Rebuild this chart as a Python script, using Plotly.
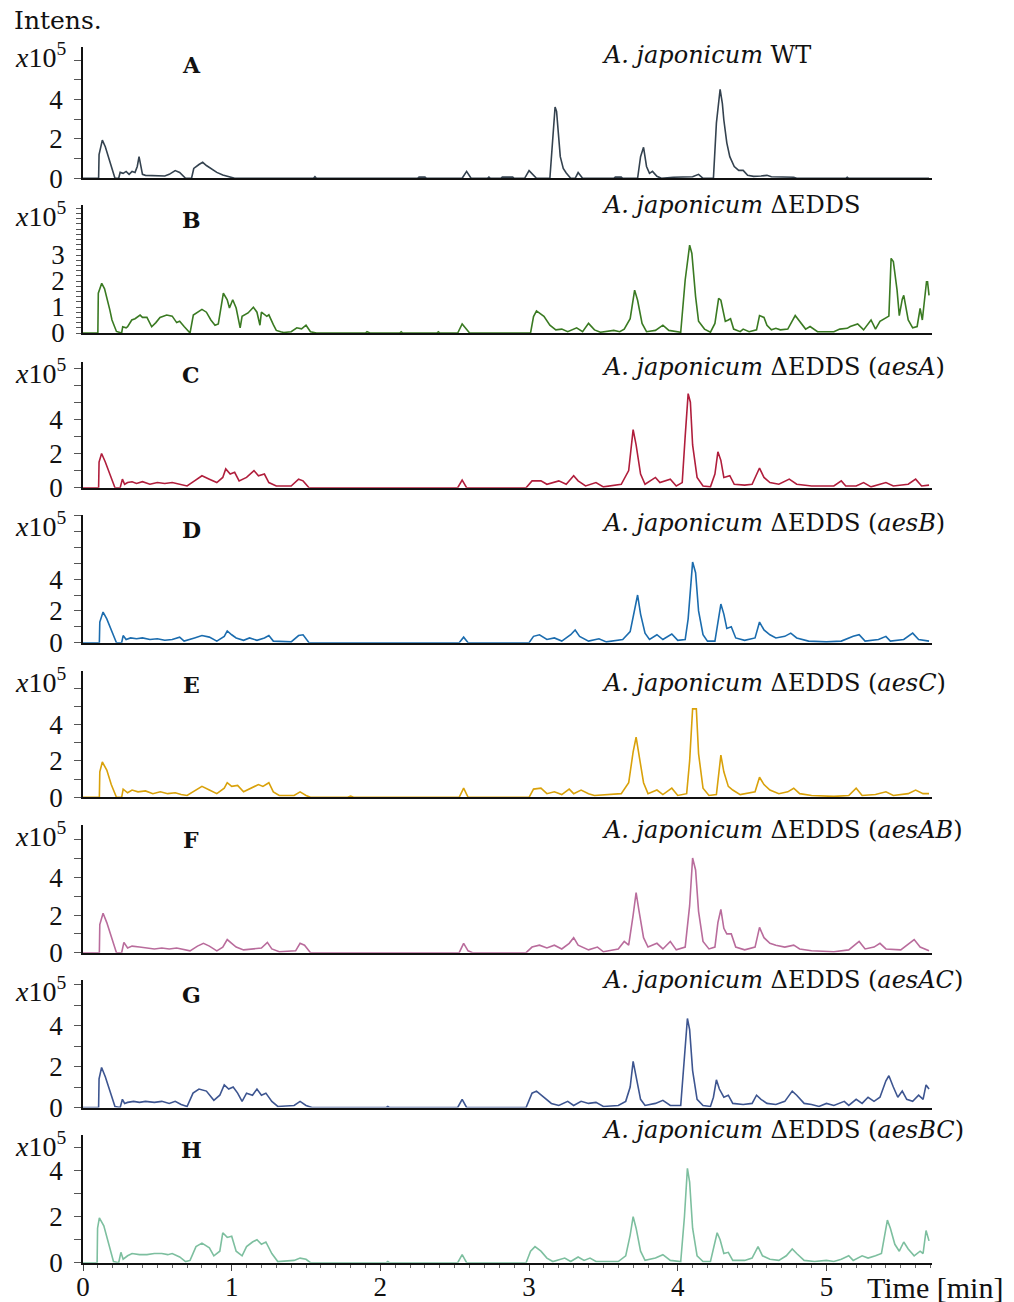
import plotly.graph_objects as go

# ---------------- data (time in min, intensity in x10^5) ----------------
trace_A = [(0.00,0),(0.105,0),(0.108,1.2),(0.13,1.94),(0.15,1.6),(0.17,1.1),(0.19,0.6),(0.215,0),(0.24,0),
 (0.25,0.3),(0.27,0.25),(0.29,0.35),(0.31,0.2),(0.33,0.35),(0.35,0.3),(0.365,0.6),(0.377,1.1),(0.39,0.6),
 (0.40,0.2),(0.42,0.15),(0.50,0.12),(0.55,0.12),(0.58,0.2),(0.62,0.39),(0.65,0.3),(0.69,0),(0.73,0),
 (0.745,0.5),(0.78,0.7),(0.805,0.81),(0.83,0.65),(0.87,0.45),(0.90,0.3),(0.94,0.17),(0.97,0.1),(1.00,0.05),
 (1.02,0),(1.55,0),(1.56,0.08),(1.57,0),(2.25,0),(2.26,0.06),(2.30,0.06),(2.31,0),(2.55,0),(2.58,0.35),
 (2.61,0),(2.72,0),(2.73,0.06),(2.74,0),(2.81,0),(2.82,0.06),(2.89,0.06),(2.90,0),(2.97,0),(3.00,0.39),
 (3.03,0.15),(3.05,0),(3.14,0),(3.16,2.2),(3.175,3.62),(3.185,3.4),(3.195,2.4),(3.21,1.1),(3.23,0.5),
 (3.25,0.27),(3.28,0),(3.31,0),(3.33,0.29),(3.36,0),(3.57,0),(3.58,0.06),(3.62,0.06),(3.63,0),(3.73,0),
 (3.75,1.1),(3.77,1.57),(3.79,0.6),(3.81,0.25),(3.83,0.35),(3.86,0.1),(3.89,0),(3.97,0.05),(4.06,0.05),
 (4.10,0.08),(4.14,0.2),(4.17,0),(4.24,0),(4.26,2.8),(4.285,4.52),(4.30,3.8),(4.31,2.96),(4.33,1.8),
 (4.35,1.1),(4.38,0.6),(4.41,0.4),(4.44,0.4),(4.47,0.15),(4.51,0.1),(4.56,0.12),(4.60,0.15),(4.63,0.08),
 (4.70,0.07),(4.78,0.05),(4.80,0),(5.13,0),(5.14,0.05),(5.15,0),(5.69,0)]

trace_B = [(0,0),(0.10,0),(0.103,1.53),(0.126,1.91),(0.145,1.7),(0.16,1.40),(0.18,0.9),(0.195,0.5),(0.225,0.06),
 (0.26,0),(0.267,0.24),(0.29,0.2),(0.30,0.24),(0.328,0.5),(0.35,0.55),(0.384,0.69),(0.40,0.6),(0.43,0.6),
 (0.462,0.24),(0.49,0.4),(0.518,0.6),(0.563,0.69),(0.60,0.65),(0.63,0.4),(0.65,0.45),(0.68,0.25),(0.709,0.06),
 (0.72,0),(0.742,0.69),(0.77,0.8),(0.80,0.91),(0.83,0.8),(0.86,0.5),(0.888,0.3),(0.91,0.35),(0.944,1.53),
 (0.97,1.28),(0.985,0.96),(1.007,1.28),(1.03,0.96),(1.057,0.2),(1.07,0.64),(1.11,0.77),(1.146,0.99),
 (1.17,0.8),(1.19,0.3),(1.20,0.8),(1.236,0.64),(1.25,0.7),(1.28,0.32),(1.30,0.1),(1.33,0.05),(1.35,0.02),
 (1.40,0.05),(1.438,0.2),(1.47,0.16),(1.50,0.3),(1.53,0.05),(1.57,0),(1.90,0),(1.91,0.05),(1.93,0),
 (2.13,0),(2.14,0.05),(2.15,0),(2.38,0),(2.39,0.05),(2.40,0),(2.52,0),(2.55,0.35),(2.60,0),(3.01,0),
 (3.03,0.63),(3.05,0.85),(3.10,0.64),(3.14,0.3),(3.18,0.12),(3.22,0.15),(3.26,0.05),(3.32,0.2),(3.36,0.05),
 (3.40,0.37),(3.44,0.12),(3.48,0.03),(3.57,0.1),(3.61,0.05),(3.64,0.15),(3.68,0.55),(3.71,1.65),(3.73,1.26),
 (3.76,0.37),(3.79,0.05),(3.85,0.1),(3.90,0.3),(3.94,0.1),(4.02,0.03),(4.05,2.04),(4.08,3.38),(4.095,3.06),
 (4.12,1.4),(4.14,0.45),(4.18,0.15),(4.22,0.03),(4.25,0.37),(4.275,1.33),(4.29,1.26),(4.32,0.45),(4.34,0.5),
 (4.355,0.55),(4.376,0.15),(4.42,0.05),(4.44,0.15),(4.48,0.05),(4.53,0.12),(4.55,0.67),(4.58,0.6),(4.60,0.3),
 (4.63,0.12),(4.66,0.18),(4.69,0.12),(4.74,0.15),(4.79,0.67),(4.82,0.45),(4.86,0.15),(4.89,0.25),(4.94,0.05),
 (5.05,0.05),(5.09,0.15),(5.14,0.18),(5.16,0.25),(5.21,0.35),(5.25,0.12),(5.30,0.5),(5.33,0.15),(5.36,0.45),
 (5.40,0.6),(5.42,0.65),(5.435,2.87),(5.45,2.75),(5.475,1.65),(5.49,0.67),(5.51,1.3),(5.52,1.45),(5.55,0.5),
 (5.58,0.2),(5.61,0.25),(5.63,0.95),(5.645,0.5),(5.673,1.97),(5.68,1.97),(5.69,1.45)]

trace_C = [(0,0),(0.105,0),(0.108,1.5),(0.125,2.0),(0.15,1.5),(0.18,0.8),(0.215,0),(0.25,0),(0.265,0.5),
 (0.28,0.2),(0.30,0.3),(0.33,0.35),(0.36,0.25),(0.40,0.35),(0.45,0.2),(0.50,0.3),(0.55,0.25),(0.60,0.3),
 (0.65,0.2),(0.70,0.1),(0.75,0.4),(0.80,0.7),(0.85,0.5),(0.90,0.3),(0.94,0.6),(0.96,1.1),(0.99,0.8),
 (1.02,0.9),(1.05,0.4),(1.10,0.6),(1.15,1.0),(1.18,0.7),(1.22,0.8),(1.25,0.3),(1.30,0.1),(1.40,0.1),
 (1.45,0.5),(1.48,0.4),(1.52,0),(2.52,0),(2.55,0.45),(2.58,0),(2.98,0),(3.02,0.4),(3.08,0.4),(3.12,0.2),
 (3.20,0.4),(3.25,0.2),(3.30,0.7),(3.33,0.4),(3.38,0.1),(3.45,0.3),(3.50,0.05),(3.62,0.2),(3.67,1.0),
 (3.70,3.4),(3.72,2.5),(3.75,0.8),(3.78,0.2),(3.85,0.6),(3.88,0.3),(3.95,0.5),(3.99,0.1),(4.03,0.3),
 (4.05,3.0),(4.07,5.5),(4.085,5.0),(4.10,2.5),(4.13,0.6),(4.17,0.1),(4.22,0.05),(4.25,0.8),(4.27,2.1),
 (4.29,1.6),(4.31,0.6),(4.35,0.7),(4.38,0.2),(4.45,0.15),(4.50,0.2),(4.55,1.15),(4.58,0.6),(4.62,0.3),
 (4.68,0.2),(4.75,0.5),(4.80,0.2),(4.90,0.1),(5.05,0.1),(5.10,0.4),(5.13,0.1),(5.20,0.1),(5.25,0.3),
 (5.30,0.05),(5.40,0.3),(5.45,0.1),(5.55,0.2),(5.60,0.5),(5.64,0.1),(5.69,0.15)]

trace_D = [(0,0),(0.11,0),(0.113,1.3),(0.135,1.93),(0.16,1.5),(0.19,0.8),(0.225,0),(0.26,0),(0.27,0.45),
 (0.29,0.2),(0.32,0.3),(0.36,0.25),(0.40,0.3),(0.45,0.2),(0.50,0.25),(0.55,0.15),(0.60,0.2),(0.65,0.35),
 (0.68,0.1),(0.75,0.3),(0.80,0.45),(0.85,0.35),(0.90,0.1),(0.95,0.4),(0.97,0.74),(1.00,0.5),(1.03,0.3),
 (1.08,0.15),(1.12,0.3),(1.17,0.15),(1.22,0.3),(1.25,0.45),(1.28,0.1),(1.40,0.05),(1.45,0.45),(1.48,0.5),
 (1.52,0),(2.53,0),(2.56,0.35),(2.59,0),(3.00,0),(3.03,0.4),(3.07,0.5),(3.12,0.2),(3.17,0.3),(3.22,0.1),
 (3.28,0.5),(3.31,0.8),(3.34,0.4),(3.40,0.1),(3.47,0.25),(3.52,0.05),(3.63,0.2),(3.68,0.7),(3.71,2.0),
 (3.73,3.0),(3.75,1.8),(3.78,0.6),(3.81,0.2),(3.86,0.5),(3.90,0.2),(3.96,0.55),(4.00,0.15),(4.05,0.2),
 (4.07,1.5),(4.10,5.07),(4.12,4.4),(4.14,2.0),(4.17,0.5),(4.20,0.1),(4.25,0.1),(4.27,1.2),(4.29,2.43),
 (4.31,1.8),(4.33,0.9),(4.36,1.0),(4.39,0.3),(4.45,0.15),(4.52,0.3),(4.55,1.3),(4.58,0.8),(4.62,0.5),
 (4.66,0.3),(4.72,0.4),(4.76,0.6),(4.80,0.3),(4.88,0.1),(5.00,0.05),(5.10,0.1),(5.18,0.4),(5.22,0.5),
 (5.26,0.1),(5.35,0.2),(5.40,0.4),(5.43,0.1),(5.52,0.2),(5.58,0.6),(5.62,0.2),(5.69,0.1)]

trace_E = [(0,0),(0.11,0),(0.113,1.4),(0.13,1.94),(0.16,1.5),(0.19,0.7),(0.225,0),(0.26,0),(0.27,0.45),
 (0.30,0.25),(0.33,0.4),(0.37,0.3),(0.42,0.35),(0.47,0.2),(0.52,0.3),(0.57,0.2),(0.62,0.25),(0.66,0.15),
 (0.70,0.1),(0.76,0.4),(0.80,0.6),(0.85,0.4),(0.90,0.2),(0.95,0.5),(0.97,0.8),(1.00,0.6),(1.04,0.65),
 (1.08,0.3),(1.13,0.5),(1.18,0.7),(1.21,0.6),(1.25,0.8),(1.28,0.3),(1.32,0.1),(1.42,0.1),(1.46,0.3),
 (1.50,0.1),(1.53,0),(1.78,0),(1.80,0.06),(1.82,0),(2.53,0),(2.56,0.5),(2.59,0),(3.00,0),(3.03,0.45),
 (3.08,0.5),(3.12,0.2),(3.17,0.3),(3.22,0.15),(3.27,0.45),(3.30,0.2),(3.35,0.4),(3.40,0.2),(3.44,0.1),
 (3.62,0.2),(3.67,0.8),(3.70,2.5),(3.72,3.3),(3.74,2.2),(3.77,0.8),(3.80,0.2),(3.86,0.4),(3.90,0.15),
 (3.96,0.5),(4.00,0.1),(4.06,0.2),(4.08,2.0),(4.10,4.86),(4.125,4.86),(4.14,2.4),(4.17,0.5),(4.21,0.1),
 (4.26,0.15),(4.28,1.5),(4.29,2.32),(4.31,1.4),(4.34,0.6),(4.37,0.4),(4.42,0.15),(4.52,0.3),(4.55,1.1),
 (4.58,0.7),(4.62,0.4),(4.68,0.2),(4.74,0.3),(4.78,0.5),(4.82,0.2),(4.90,0.1),(5.05,0.05),(5.15,0.1),
 (5.20,0.5),(5.24,0.1),(5.33,0.15),(5.40,0.3),(5.45,0.1),(5.55,0.2),(5.60,0.4),(5.65,0.2),(5.69,0.2)]

trace_F = [(0,0),(0.11,0),(0.113,1.5),(0.135,2.1),(0.16,1.6),(0.19,0.8),(0.225,0),(0.26,0),(0.275,0.55),
 (0.30,0.25),(0.33,0.35),(0.38,0.3),(0.43,0.25),(0.48,0.2),(0.53,0.25),(0.58,0.2),(0.63,0.25),(0.68,0.15),
 (0.72,0.1),(0.77,0.35),(0.81,0.5),(0.85,0.35),(0.90,0.1),(0.94,0.3),(0.97,0.7),(1.00,0.5),(1.03,0.3),
 (1.08,0.15),(1.15,0.2),(1.20,0.25),(1.24,0.55),(1.27,0.2),(1.32,0.05),(1.43,0.1),(1.46,0.5),(1.49,0.4),
 (1.53,0),(2.53,0),(2.56,0.5),(2.59,0.1),(2.62,0),(2.98,0),(3.02,0.3),(3.07,0.4),(3.12,0.25),(3.17,0.4),
 (3.22,0.2),(3.27,0.5),(3.30,0.8),(3.33,0.4),(3.40,0.15),(3.46,0.3),(3.50,0.05),(3.60,0.2),(3.64,0.6),
 (3.67,0.4),(3.70,2.0),(3.72,3.2),(3.74,2.2),(3.77,0.8),(3.80,0.3),(3.86,0.5),(3.90,0.2),(3.95,0.6),
 (3.99,0.15),(4.05,0.3),(4.08,2.5),(4.10,5.04),(4.12,4.4),(4.14,2.2),(4.17,0.6),(4.21,0.2),(4.25,0.3),
 (4.27,1.6),(4.29,2.3),(4.31,1.3),(4.33,1.0),(4.36,1.0),(4.39,0.3),(4.45,0.15),(4.52,0.3),(4.55,1.35),
 (4.58,0.8),(4.62,0.5),(4.66,0.4),(4.72,0.3),(4.78,0.4),(4.82,0.2),(4.90,0.1),(5.05,0.05),(5.15,0.15),
 (5.22,0.6),(5.26,0.2),(5.32,0.3),(5.36,0.5),(5.40,0.2),(5.50,0.15),(5.56,0.5),(5.59,0.7),(5.63,0.3),(5.69,0.1)]

trace_G = [(0,0),(0.105,0),(0.108,1.4),(0.125,1.95),(0.15,1.5),(0.18,0.8),(0.215,0.05),(0.25,0),(0.265,0.4),
 (0.28,0.2),(0.30,0.25),(0.34,0.3),(0.38,0.25),(0.42,0.3),(0.48,0.25),(0.53,0.3),(0.58,0.2),(0.62,0.3),
 (0.66,0.15),(0.70,0.05),(0.74,0.7),(0.78,0.9),(0.83,0.8),(0.88,0.35),(0.92,0.6),(0.95,1.1),(0.98,0.9),
 (1.01,1.0),(1.04,0.7),(1.07,0.3),(1.10,0.7),(1.14,0.6),(1.17,0.9),(1.20,0.6),(1.23,0.7),(1.27,0.3),
 (1.31,0.05),(1.42,0.1),(1.46,0.3),(1.50,0.1),(1.54,0),(2.04,0),(2.05,0.05),(2.06,0),(2.52,0),(2.55,0.4),
 (2.58,0),(2.98,0),(3.02,0.7),(3.05,0.8),(3.10,0.5),(3.15,0.2),(3.20,0.1),(3.26,0.3),(3.30,0.1),(3.35,0.3),
 (3.40,0.2),(3.45,0.25),(3.50,0.05),(3.60,0.1),(3.65,0.3),(3.68,1.0),(3.70,2.25),(3.72,1.5),(3.75,0.4),
 (3.78,0.1),(3.85,0.2),(3.90,0.35),(3.95,0.1),(4.02,0.1),(4.04,2.0),(4.065,4.34),(4.08,3.8),(4.10,1.8),
 (4.13,0.4),(4.17,0.1),(4.22,0.05),(4.24,0.5),(4.26,1.35),(4.28,0.9),(4.31,0.5),(4.34,0.6),(4.37,0.2),
 (4.44,0.15),(4.50,0.2),(4.53,0.6),(4.56,0.4),(4.60,0.2),(4.66,0.15),(4.72,0.3),(4.77,0.8),(4.80,0.6),
 (4.85,0.2),(4.90,0.15),(4.95,0.05),(5.00,0.2),(5.05,0.1),(5.12,0.3),(5.15,0.1),(5.20,0.4),(5.24,0.2),
 (5.28,0.5),(5.32,0.3),(5.36,0.5),(5.40,1.3),(5.42,1.55),(5.45,1.0),(5.48,0.5),(5.51,0.8),(5.54,0.4),
 (5.58,0.3),(5.62,0.6),(5.65,0.4),(5.67,1.1),(5.69,0.9)]

trace_H = [(0,0),(0.095,0),(0.098,1.5),(0.11,1.95),(0.14,1.6),(0.17,0.9),(0.205,0.05),(0.24,0),(0.255,0.45),
 (0.27,0.15),(0.30,0.3),(0.33,0.4),(0.38,0.35),(0.43,0.35),(0.48,0.4),(0.53,0.4),(0.57,0.35),(0.60,0.4),
 (0.65,0.25),(0.69,0.05),(0.72,0.1),(0.76,0.7),(0.80,0.85),(0.85,0.65),(0.88,0.3),(0.92,0.5),(0.94,1.3),
 (0.97,1.1),(1.00,1.15),(1.03,0.5),(1.07,0.3),(1.10,0.7),(1.14,0.9),(1.17,1.0),(1.20,0.8),(1.23,0.9),
 (1.27,0.4),(1.31,0.05),(1.42,0.1),(1.46,0.2),(1.50,0.15),(1.53,0),(2.04,0),(2.05,0.05),(2.06,0),(2.52,0),
 (2.55,0.35),(2.58,0),(2.98,0),(3.01,0.5),(3.04,0.7),(3.08,0.5),(3.12,0.2),(3.16,0.05),(3.24,0.2),(3.28,0.05),
 (3.33,0.25),(3.37,0.1),(3.41,0.2),(3.45,0.05),(3.60,0.05),(3.65,0.3),(3.68,1.2),(3.70,2.0),(3.72,1.5),
 (3.75,0.5),(3.78,0.1),(3.85,0.2),(3.90,0.35),(3.95,0.1),(4.02,0.05),(4.045,2.0),(4.065,4.1),(4.08,3.5),
 (4.10,1.5),(4.13,0.3),(4.17,0.05),(4.22,0.05),(4.245,0.8),(4.265,1.3),(4.285,1.0),(4.31,0.4),(4.34,0.45),
 (4.37,0.1),(4.45,0.1),(4.50,0.2),(4.54,0.7),(4.57,0.3),(4.62,0.15),(4.68,0.1),(4.73,0.3),(4.77,0.6),
 (4.80,0.4),(4.85,0.1),(4.92,0.05),(5.00,0.1),(5.05,0.05),(5.10,0.15),(5.15,0.3),(5.18,0.1),(5.24,0.3),
 (5.28,0.2),(5.33,0.3),(5.37,0.4),(5.41,1.85),(5.43,1.5),(5.46,0.8),(5.49,0.5),(5.52,0.9),(5.55,0.6),
 (5.59,0.3),(5.63,0.5),(5.65,0.4),(5.67,1.4),(5.69,0.95)]

panel_letters = ["A", "B", "C", "D", "E", "F", "G", "H"]
panel_titles = [
    "<i>A. japonicum</i> WT",
    "<i>A. japonicum</i> ΔEDDS",
    "<i>A. japonicum</i> ΔEDDS (<i>aesA</i>)",
    "<i>A. japonicum</i> ΔEDDS (<i>aesB</i>)",
    "<i>A. japonicum</i> ΔEDDS (<i>aesC</i>)",
    "<i>A. japonicum</i> ΔEDDS (<i>aesAB</i>)",
    "<i>A. japonicum</i> ΔEDDS (<i>aesAC</i>)",
    "<i>A. japonicum</i> ΔEDDS (<i>aesBC</i>)",
]
x_ticks = [0, 1, 2, 3, 4, 5]
traces = [trace_A, trace_B, trace_C, trace_D, trace_E, trace_F, trace_G, trace_H]

# ---------------- styling / layout (screen pixel positions) ----------------
colors = ["#34424f", "#3a7a22", "#b01e3c", "#1b6cae", "#d9a10a", "#b96c9c", "#3d5590", "#7dbf9f"]
OFF = 8                      # page body margin of the browser
W, H = 1014 - OFF, 1302 - OFF
L_PX, R_PX = 83, 932
tops = [47, 205, 362, 515, 671, 825, 980, 1135]
bases = [178.3, 333, 487.7, 642.7, 797.3, 952.7, 1107.5, 1262.7]
unit_px = [19.7, 26, 17.1, 15.9, 18.2, 18.8, 20.5, 23]
title_y = [55, 205, 367, 523, 683, 830, 980, 1130]
letter_y = [65, 220, 375, 530, 685, 840, 995, 1150]
XMAX = 5.71

SERIF_T = "Liberation Serif, Times New Roman, serif"
SERIF_C = "DejaVu Serif, serif"


def px_x(px):
    return (px - L_PX) / (R_PX - L_PX)


def px_y(py):
    return 1 - (py - OFF) / H


fig = go.Figure()
annotations = []
layout = {}
for i, tr in enumerate(traces):
    n = "" if i == 0 else str(i + 1)
    t, v = zip(*tr)
    fig.add_trace(go.Scatter(x=list(t), y=list(v), mode="lines",
                             line=dict(color=colors[i], width=1.6),
                             xaxis="x" + n, yaxis="y" + n, hoverinfo="skip", showlegend=False))
    dom = [px_y(bases[i]), px_y(tops[i])]
    ymax = (bases[i] - tops[i]) / unit_px[i]
    if i == 1:
        step = 0.2
        nt = int(ymax / step + 1e-6)
        tv = [round(k * step, 2) for k in range(nt + 1)]
        tt = [str(int(round(x))) if abs(x - round(x)) < 1e-6 and x <= 3 else "" for x in tv]
        tlen = 5
    else:
        nt = int(ymax + 1e-6)
        tv = list(range(nt + 1))
        tt = [str(x) if x in (0, 2, 4) else "" for x in tv]
        tlen = 7
    last = (i == len(traces) - 1)
    xa = dict(
        domain=[0, 1], range=[0, XMAX], anchor="y" + n,
        showline=True, linecolor="#111", linewidth=2, showgrid=False, zeroline=False,
        showticklabels=last, tickvals=x_ticks if last else [],
        ticks="outside" if last else "", ticklen=6, tickcolor="#444", tickwidth=1.2,
        tickfont=dict(family=SERIF_T, size=27, color="#111"),
    )
    if last:
        xa["ticklabelstandoff"] = -7
        xa["minor"] = dict(tickmode="linear", tick0=0, dtick=0.1, ticks="outside",
                           ticklen=3, tickcolor="#666", tickwidth=1)
    if i > 0:
        xa["matches"] = "x"
    layout["xaxis" + n] = xa
    layout["yaxis" + n] = dict(
        domain=dom, range=[0, ymax], anchor="x" + n,
        showline=True, linecolor="#111", linewidth=1.5, showgrid=False, zeroline=False,
        tickmode="array", tickvals=tv, ticktext=tt, ticks="outside", ticklen=tlen,
        tickcolor="#555", tickwidth=1.3, ticklabelstandoff=6,
        tickfont=dict(family=SERIF_T, size=27, color="#111"),
    )
    annotations.append(dict(text="<i>x</i>10<sup>5</sup>", xref="paper", yref="paper",
                            x=px_x(68), y=px_y(tops[i] + 9),
                            xanchor="right", yanchor="middle", showarrow=False,
                            font=dict(family=SERIF_T, size=28, color="#111")))
    annotations.append(dict(text="<b>" + panel_letters[i] + "</b>", xref="paper", yref="paper",
                            x=px_x(191), y=px_y(letter_y[i]),
                            xanchor="center", yanchor="middle", showarrow=False,
                            font=dict(family=SERIF_C, size=22, color="#111")))
    annotations.append(dict(text=panel_titles[i], xref="paper", yref="paper",
                            x=px_x(600), y=px_y(title_y[i]),
                            xanchor="left", yanchor="middle", showarrow=False,
                            font=dict(family=SERIF_C, size=24, color="#111")))

annotations.append(dict(text="Intens.", xref="paper", yref="paper",
                        x=px_x(12), y=px_y(20),
                        xanchor="left", yanchor="middle", showarrow=False,
                        font=dict(family=SERIF_C, size=25, color="#111")))
annotations.append(dict(text="Time [min]", xref="paper", yref="paper",
                        x=px_x(865), y=px_y(1287),
                        xanchor="left", yanchor="middle", showarrow=False,
                        font=dict(family=SERIF_T, size=30, color="#111")))

fig.update_layout(
    width=W, height=H,
    margin=dict(l=L_PX - OFF, r=1014 - R_PX, t=0, b=0, autoexpand=False),
    paper_bgcolor="white", plot_bgcolor="white",
    annotations=annotations, showlegend=False,
    **layout,
)
fig.write_html("out.html")
